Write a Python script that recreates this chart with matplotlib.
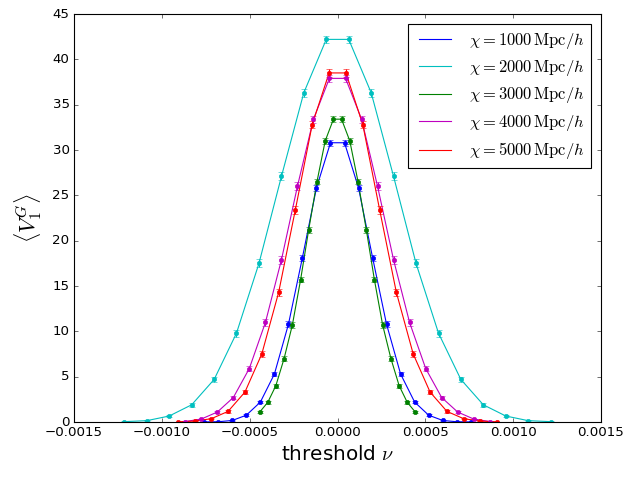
import numpy as np
import matplotlib
matplotlib.use("Agg")
import matplotlib.pyplot as plt

plt.style.use("classic")

# threshold values in units of 1e-4
x_1000 = [-7.58, -6.78, -5.99, -5.19, -4.39, -3.59, -2.79, -2.00, -1.20, -0.40,
          0.40, 1.20, 2.00, 2.79, 3.59, 4.39, 5.19, 5.99, 6.78, 7.58]
x_2000 = [-12.13, -10.85, -9.58, -8.30, -7.02, -5.75, -4.47, -3.19, -1.92, -0.64,
          0.64, 1.92, 3.19, 4.47, 5.75, 7.02, 8.30, 9.58, 10.85, 12.13]
x_3000 = [-4.44, -3.97, -3.51, -3.04, -2.57, -2.10, -1.64, -1.17, -0.70, -0.23,
          0.23, 0.70, 1.17, 1.64, 2.10, 2.57, 3.04, 3.51, 3.97, 4.44]
x_4000 = [-8.67, -7.75, -6.84, -5.93, -5.02, -4.10, -3.19, -2.28, -1.37, -0.46,
          0.46, 1.37, 2.28, 3.19, 4.10, 5.02, 5.93, 6.84, 7.75, 8.67]
x_5000 = [-9.10, -8.14, -7.19, -6.23, -5.27, -4.31, -3.35, -2.40, -1.44, -0.48,
          0.48, 1.44, 2.40, 3.35, 4.31, 5.27, 6.23, 7.19, 8.14, 9.10]

v_1000 = [0.01, 0.03, 0.17, 0.75, 2.2, 5.3, 10.8, 18.1, 25.8, 30.8,
          30.8, 25.8, 18.1, 10.8, 5.3, 2.2, 0.75, 0.17, 0.03, 0.01]
v_2000 = [0.04, 0.15, 0.66, 1.9, 4.7, 9.8, 17.5, 27.1, 36.3, 42.2,
          42.2, 36.3, 27.1, 17.5, 9.8, 4.7, 1.9, 0.66, 0.15, 0.04]
v_3000 = [1.07, 2.17, 4.0, 7.0, 10.7, 15.7, 21.2, 26.5, 31.0, 33.4,
          33.4, 31.0, 26.5, 21.2, 15.7, 10.7, 7.0, 4.0, 2.17, 1.07]
v_4000 = [0.05, 0.33, 1.1, 2.7, 5.9, 11.0, 17.9, 26.0, 33.4, 37.9,
          37.9, 33.4, 26.0, 17.9, 11.0, 5.9, 2.7, 1.1, 0.33, 0.05]
v_5000 = [0.02, 0.1, 0.36, 1.17, 3.3, 7.5, 14.3, 23.4, 32.8, 38.5,
          38.5, 32.8, 23.4, 14.3, 7.5, 3.3, 1.17, 0.36, 0.1, 0.02]

e_1000 = [0.01, 0.02, 0.05, 0.1, 0.15, 0.25, 0.3, 0.35, 0.35, 0.35,
          0.35, 0.35, 0.35, 0.3, 0.25, 0.15, 0.1, 0.05, 0.02, 0.01]
e_2000 = [0.02, 0.05, 0.1, 0.2, 0.3, 0.4, 0.45, 0.45, 0.45, 0.4,
          0.4, 0.45, 0.45, 0.45, 0.4, 0.3, 0.2, 0.1, 0.05, 0.02]
e_3000 = [0.1, 0.15, 0.2, 0.25, 0.3, 0.3, 0.3, 0.3, 0.3, 0.3,
          0.3, 0.3, 0.3, 0.3, 0.3, 0.3, 0.25, 0.2, 0.15, 0.1]
e_4000 = [0.02, 0.05, 0.1, 0.2, 0.3, 0.4, 0.45, 0.45, 0.4, 0.4,
          0.4, 0.4, 0.45, 0.45, 0.4, 0.3, 0.2, 0.1, 0.05, 0.02]
e_5000 = [0.01, 0.03, 0.07, 0.15, 0.25, 0.35, 0.4, 0.45, 0.4, 0.4,
          0.4, 0.4, 0.45, 0.4, 0.35, 0.25, 0.15, 0.07, 0.03, 0.01]

chis = [1000, 2000, 3000, 4000, 5000]
xs = [x_1000, x_2000, x_3000, x_4000, x_5000]
vs = [v_1000, v_2000, v_3000, v_4000, v_5000]
es = [e_1000, e_2000, e_3000, e_4000, e_5000]
colors = ["b", "c", "g", "m", "r"]

fig = plt.figure(figsize=(632/80., 481/80.), dpi=80)
ax = fig.add_axes([74/632., 1-422/481., 527/632., 408/481.])

for chi, x, v, e, c in zip(chis, xs, vs, es, colors):
    x = np.array(x) * 1e-4
    ax.plot(x, v, "-", color=c, lw=1, label=r"$\chi = %d\,\mathrm{Mpc}/h$" % chi)
    ax.errorbar(x, v, yerr=e, fmt="o", color=c, mec=c, ms=4, capsize=3,
                elinewidth=1)

ax.set_xlim(-0.0015, 0.0015)
ax.set_ylim(0, 45)
ax.set_xticks(np.arange(-0.0015, 0.00151, 0.0005))
ax.set_xlabel(r"threshold $\nu$", fontsize=18)
ax.set_ylabel(r"$\langle V_1^G \rangle$", fontsize=20, labelpad=8)
ax.legend(loc="upper right", fontsize=14.9, handlelength=2.5, labelspacing=0.45,
          handletextpad=0.8, borderaxespad=0.6)

fig.savefig("out.png", dpi=80)
